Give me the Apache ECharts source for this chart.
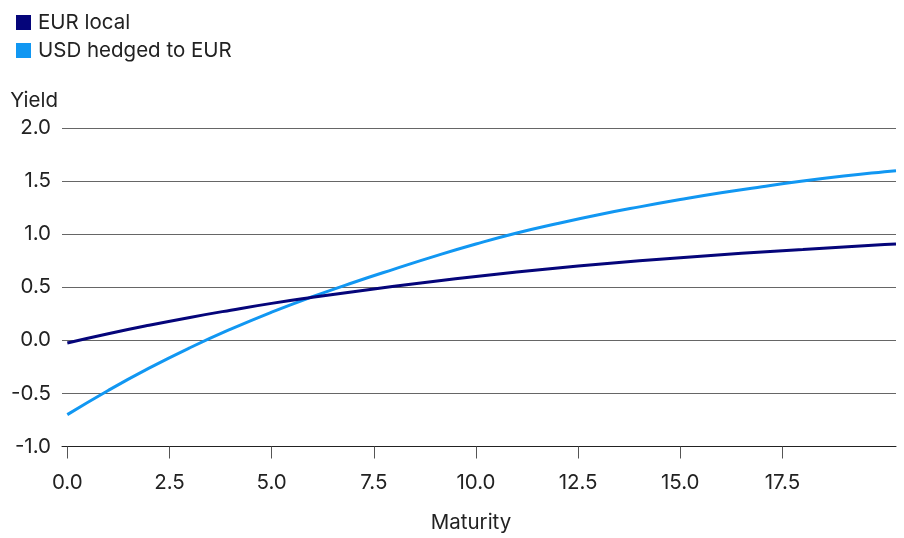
<!DOCTYPE html>
<html>
<head>
<meta charset="utf-8">
<script src="https://cdn.jsdelivr.net/npm/echarts@6/dist/echarts.min.js"></script>
<style>
  html, body { margin: 0; padding: 0; background: #fff; }
  #chart { width: 904px; height: 538px; }
</style>
</head>
<body>
<div id="chart"></div>
<script>
// Maturity in years
const maturity = [0, 1, 2, 3, 4, 5, 6, 7, 8, 9, 10, 11, 12, 13, 14, 15, 16, 17, 18, 19, 20, 20.28];
// Yield curves (%)
const eurLocal = [-0.025, 0.062, 0.142, 0.216, 0.284, 0.348, 0.405, 0.458, 0.509, 0.557, 0.601, 0.643, 0.682, 0.717, 0.749, 0.779, 0.806, 0.832, 0.855, 0.879, 0.902, 0.908];
const usdHedged = [-0.70, -0.472, -0.262, -0.070, 0.105, 0.265, 0.411, 0.545, 0.671, 0.793, 0.907, 1.011, 1.101, 1.183, 1.257, 1.326, 1.390, 1.447, 1.500, 1.547, 1.588, 1.598];
const xTicks = [0, 2.5, 5, 7.5, 10, 12.5, 15, 17.5];

const FONT = 'Inter';
const FS = 20.5;
const TEXT = '#222';

const pairs = (ys) => maturity.map((x, i) => [x, ys[i]]);

const chart = echarts.init(document.getElementById('chart'));
chart.setOption({
  animation: false,
  textStyle: { fontFamily: FONT, color: TEXT },
  legend: {
    orient: 'vertical',
    left: 11,
    top: 7,
    itemWidth: 15,
    itemHeight: 15,
    itemGap: 7,
    icon: 'rect',
    textStyle: { fontFamily: FONT, fontSize: FS, color: TEXT, padding: [0, 0, 0, 2] },
    data: ['EUR local', 'USD hedged to EUR']
  },
  grid: { left: 62, right: 8, top: 128, bottom: 86, containLabel: false },
  xAxis: {
    type: 'value',
    min: -0.13,
    max: 20.28,
    name: 'Maturity',
    nameLocation: 'middle',
    nameGap: 76,
    nameTextStyle: { fontFamily: FONT, fontSize: FS, color: TEXT, verticalAlign: 'middle', padding: [0, 16, 0, 0] },
    axisLine: { show: true, onZero: false, lineStyle: { color: '#222', width: 1 } },
    axisTick: { show: true, length: 12, customValues: xTicks, lineStyle: { color: '#555', width: 1 } },
    axisLabel: {
      customValues: xTicks,
      margin: 26,
      fontFamily: FONT, fontSize: FS, color: TEXT,
      formatter: (v) => v.toFixed(1)
    },
    splitLine: { show: false }
  },
  yAxis: {
    type: 'value',
    min: -1,
    max: 2,
    interval: 0.5,
    name: 'Yield',
    nameLocation: 'end',
    nameGap: 27,
    nameTextStyle: { fontFamily: FONT, fontSize: FS, color: TEXT, align: 'right', verticalAlign: 'middle', padding: [0, 4, 0, 0] },
    axisLine: { show: false, onZero: false },
    axisTick: { show: false },
    axisLabel: {
      margin: 11,
      fontFamily: FONT, fontSize: FS, color: TEXT,
      formatter: (v) => v.toFixed(1)
    },
    splitLine: { show: true, lineStyle: { color: '#666', width: 1 } }
  },
  series: [
    {
      name: 'EUR local',
      type: 'line',
      data: pairs(eurLocal),
      smooth: true,
      showSymbol: false,
      symbol: 'none',
      color: '#05057a',
      lineStyle: { width: 3, color: '#05057a' },
      z: 3
    },
    {
      name: 'USD hedged to EUR',
      type: 'line',
      data: pairs(usdHedged),
      smooth: true,
      showSymbol: false,
      symbol: 'none',
      color: '#1197f2',
      lineStyle: { width: 3, color: '#1197f2' },
      z: 2
    }
  ]
});
</script>
</body>
</html>
